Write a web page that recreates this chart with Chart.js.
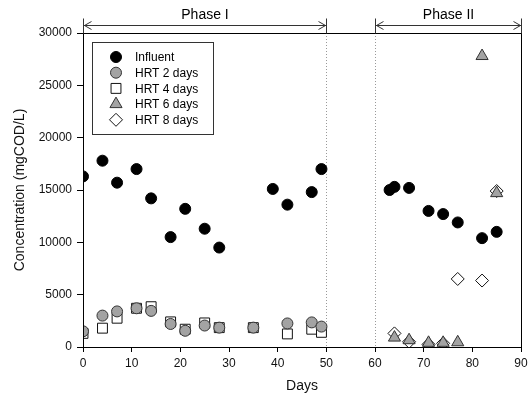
<!DOCTYPE html>
<html>
<head>
<meta charset="utf-8">
<script src="https://cdn.jsdelivr.net/npm/chart.js@4"></script>
<style>
  body { margin: 0; background: #fff; }
  canvas { display: block; }
</style>
</head>
<body>
<canvas id="chart" width="529" height="399"></canvas>
<script>
// data
const influentDays = [0, 4, 7, 11, 14, 18, 21, 25, 28, 39, 42, 47, 49, 63, 64, 67, 71, 74, 77, 82, 85];
const influent = [16300, 17800, 15700, 17000, 14200, 10500, 13200, 11300, 9500, 15100, 13600, 14800, 17000, 15000, 15300, 15200, 13000, 12700, 11900, 10400, 11000];

const phase1Days = [0, 4, 7, 11, 14, 18, 21, 25, 28, 35, 42, 47, 49];
const hrt2 = [1500, 3000, 3400, 3700, 3450, 2200, 1550, 2050, 1850, 1850, 2250, 2350, 1950];
const hrt4 = [1300, 1800, 2750, 3700, 3850, 2400, 1700, 2300, 1850, 1850, 1250, 1700, 1400];

const phase2Days = [64, 67, 71, 74, 77, 82, 85];
const hrt6 = [900, 650, 400, 400, 450, 27800, 14700];
const hrt8 = [1300, 500, 250, 350, 6500, 6350, 14900];

const xTicks = [0, 10, 20, 30, 40, 50, 60, 70, 80, 90];
const yTicks = [0, 5000, 10000, 15000, 20000, 25000, 30000];

const phases = [
    { label: "Phase I", from: 0, to: 50 },
    { label: "Phase II", from: 60, to: 90 }
];

const FONT = "'Liberation Sans', Arial, sans-serif";

function pts(days, vals) {
    return days.map((d, i) => ({ x: d, y: vals[i] }));
}

const datasets = [
    { label: "Influent", data: pts(influentDays, influent), pointStyle: "circle", pointRadius: 5.5,
      backgroundColor: "#000", borderColor: "#000" },
    { label: "HRT 2 days", data: pts(phase1Days, hrt2), pointStyle: "circle", pointRadius: 5.5,
      backgroundColor: "#a3a3a3", borderColor: "#333" },
    { label: "HRT 4 days", data: pts(phase1Days, hrt4), pointStyle: "rect", pointRadius: 7,
      backgroundColor: "#fff", borderColor: "#111" },
    { label: "HRT 6 days", data: pts(phase2Days, hrt6), pointStyle: "triangle", pointRadius: 7,
      backgroundColor: "#a3a3a3", borderColor: "#333" },
    { label: "HRT 8 days", data: pts(phase2Days, hrt8), pointStyle: "rectRot", pointRadius: 6.5,
      backgroundColor: "#fff", borderColor: "#111" }
];
datasets.forEach(ds => { ds.borderWidth = 1; ds.pointHoverRadius = ds.pointRadius; });

// frame, phase markers and legend box
const decorPlugin = {
    id: "decor",
    beforeDatasetsDraw(chart) {
        const ctx = chart.ctx, a = chart.chartArea, xs = chart.scales.x;
        ctx.save();
        ctx.strokeStyle = "#999";
        ctx.lineWidth = 1;
        ctx.setLineDash([1, 2]);
        phases.forEach(p => {
            [p.from, p.to].forEach(v => {
                if (v === 0 || v === 90) return;
                const x = Math.round(xs.getPixelForValue(v)) + 0.5;
                ctx.beginPath();
                ctx.moveTo(x, a.top);
                ctx.lineTo(x, a.bottom);
                ctx.stroke();
            });
        });
        ctx.restore();
    },
    afterDatasetsDraw(chart) {
        const ctx = chart.ctx, a = chart.chartArea, xs = chart.scales.x;
        ctx.save();
        // box
        ctx.strokeStyle = "#000";
        ctx.lineWidth = 1;
        ctx.strokeRect(Math.round(a.left) + 0.5, Math.round(a.top) + 0.5,
                       Math.round(a.right - a.left), Math.round(a.bottom - a.top));

        // phase arrows
        const ay = 25.5;
        ctx.strokeStyle = "#333";
        phases.forEach(p => {
            const x1 = Math.round(xs.getPixelForValue(p.from)) + 0.5;
            const x2 = Math.round(xs.getPixelForValue(p.to)) + 0.5;
            ctx.beginPath();
            ctx.moveTo(x1, ay); ctx.lineTo(x2, ay);
            ctx.moveTo(x1, ay - 7); ctx.lineTo(x1, ay + 8);
            ctx.moveTo(x2, ay - 7); ctx.lineTo(x2, ay + 8);
            ctx.moveTo(x1 + 8, ay - 4); ctx.lineTo(x1 + 1, ay); ctx.lineTo(x1 + 8, ay + 4);
            ctx.moveTo(x2 - 8, ay - 4); ctx.lineTo(x2 - 1, ay); ctx.lineTo(x2 - 8, ay + 4);
            ctx.stroke();
            ctx.fillStyle = "#000";
            ctx.font = "14px " + FONT;
            ctx.textAlign = "center";
            ctx.textBaseline = "middle";
            ctx.fillText(p.label, (x1 + x2) / 2, 15);
        });

        // legend
        ctx.strokeStyle = "#333";
        ctx.strokeRect(92.5, 42.5, 121, 92);
        ctx.font = "12px " + FONT;
        ctx.textAlign = "left";
        ctx.textBaseline = "middle";
        chart.data.datasets.forEach((ds, i) => {
            const y = 57 + i * 15.7;
            ctx.fillStyle = ds.backgroundColor;
            ctx.strokeStyle = ds.borderColor;
            ctx.lineWidth = 1;
            Chart.helpers.drawPoint(ctx, { pointStyle: ds.pointStyle, radius: ds.pointRadius, rotation: 0, borderWidth: 1 }, 116, y);
            ctx.fillStyle = "#000";
            ctx.fillText(ds.label, 135, y + 1);
        });
        ctx.restore();
    }
};

new Chart(document.getElementById("chart"), {
    type: "scatter",
    data: { datasets: datasets },
    options: {
        responsive: false,
        animation: false,
        layout: { padding: { left: 12, right: 8, top: 33, bottom: 4 } },
        plugins: { legend: { display: false }, tooltip: { enabled: false } },
        scales: {
            x: {
                type: "linear", min: 0, max: 90,
                afterFit: s => { s.height = 48; s.paddingLeft = 0; s.paddingRight = 0; },
                afterBuildTicks: s => { s.ticks = xTicks.map(v => ({ value: v })); },
                ticks: { color: "#111", font: { family: FONT, size: 12 }, padding: 4, maxRotation: 0 },
                grid: { drawOnChartArea: false, drawTicks: true, tickLength: 5, color: "#000" },
                border: { color: "#000" },
                title: { display: true, text: "Days", color: "#111", font: { family: FONT, size: 14 }, padding: { top: 0, bottom: 0 } }
            },
            y: {
                type: "linear", min: 0, max: 30000,
                afterFit: s => { s.width = 71; s.paddingTop = 0; s.paddingBottom = 0; },
                afterBuildTicks: s => { s.ticks = yTicks.map(v => ({ value: v })); },
                ticks: { color: "#111", font: { family: FONT, size: 12 }, padding: 5, callback: v => String(v) },
                grid: { drawOnChartArea: false, drawTicks: true, tickLength: 6, color: "#000" },
                border: { color: "#000" },
                title: { display: true, text: "Concentration (mgCOD/L)", color: "#111", font: { family: FONT, size: 14 }, padding: { top: 0, bottom: 0 } }
            }
        }
    },
    plugins: [decorPlugin]
});
</script>
</body>
</html>
